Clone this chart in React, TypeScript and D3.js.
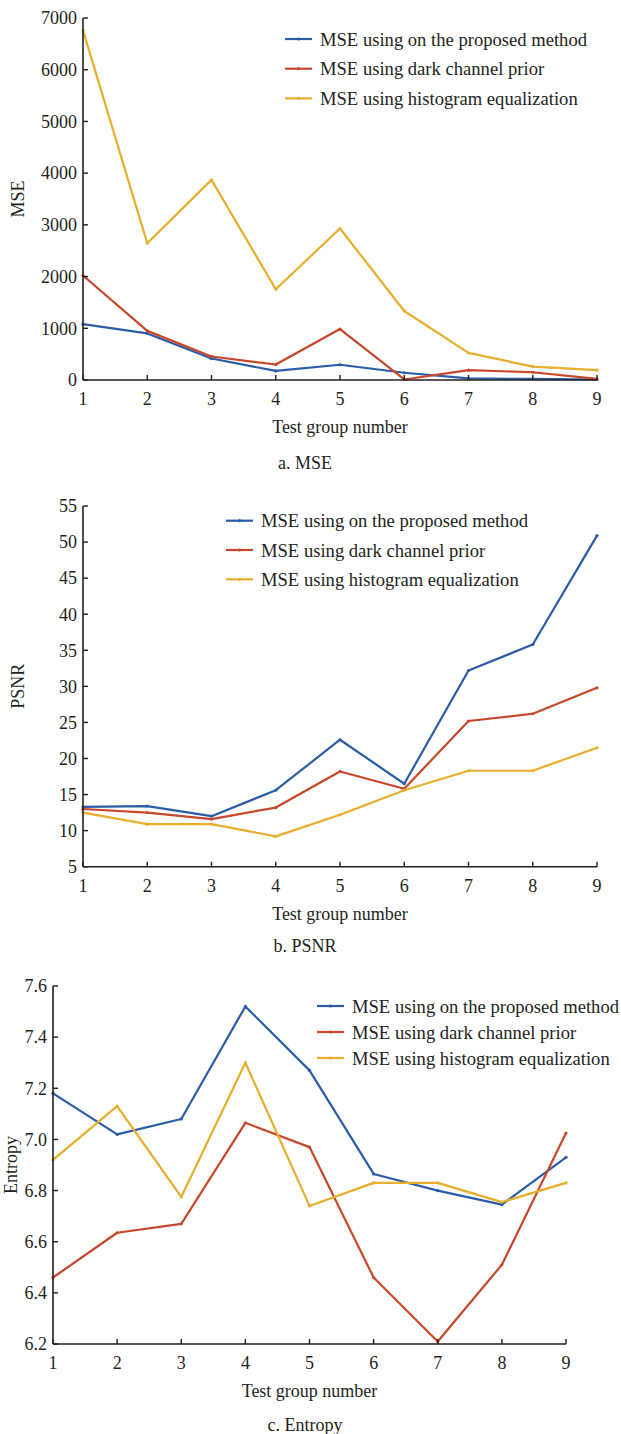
import React from "react";
import * as d3 from "d3";

const width = 621;
const height = 1434;

// test groups on the x axis
const groups = [1, 2, 3, 4, 5, 6, 7, 8, 9];

const seriesNames = [
  "MSE using on the proposed method",
  "MSE using dark channel prior",
  "MSE using histogram equalization",
];
const seriesColors = ["#2a5ca8", "#c8472a", "#e7ae2c"];

// a. MSE
const mseProposed = [1080, 900, 415, 175, 295, 140, 30, 20, 10];
const mseDark = [2020, 950, 455, 300, 985, 10, 190, 150, 20];
const mseHist = [6760, 2645, 3870, 1755, 2930, 1335, 525, 260, 190];
const mseTicks = [0, 1000, 2000, 3000, 4000, 5000, 6000, 7000];

// b. PSNR
const psnrProposed = [13.3, 13.4, 12.0, 15.6, 22.6, 16.5, 32.2, 35.8, 50.9];
const psnrDark = [13.0, 12.5, 11.6, 13.2, 18.2, 15.8, 25.2, 26.2, 29.8];
const psnrHist = [12.5, 10.9, 10.9, 9.2, 12.2, 15.6, 18.3, 18.3, 21.5];
const psnrTicks = [5, 10, 15, 20, 25, 30, 35, 40, 45, 50, 55];

// c. Entropy
const entProposed = [7.18, 7.02, 7.08, 7.52, 7.27, 6.865, 6.8, 6.745, 6.93];
const entDark = [6.46, 6.635, 6.67, 7.065, 6.97, 6.46, 6.21, 6.51, 7.025];
const entHist = [6.92, 7.13, 6.775, 7.3, 6.74, 6.83, 6.83, 6.755, 6.83];
const entTicks = [6.2, 6.4, 6.6, 6.8, 7.0, 7.2, 7.4, 7.6];

const font = "Liberation Serif, Times New Roman, Times, serif";
const ink = "#231f20";

const panels = [
  {
    key: "mse",
    yLabel: "MSE",
    caption: "a. MSE",
    series: [mseProposed, mseDark, mseHist],
    ticks: mseTicks,
    fmt: d3.format("d"),
    x0: 83, x1: 597, yTop: 18, yBottom: 380,
    yLabelX: 24,
    legend: { x: 285, y: 39, gap: 29.7 },
    captionY: 463,
  },
  {
    key: "psnr",
    yLabel: "PSNR",
    caption: "b. PSNR",
    series: [psnrProposed, psnrDark, psnrHist],
    ticks: psnrTicks,
    fmt: d3.format("d"),
    x0: 83, x1: 597, yTop: 506, yBottom: 866.7,
    yLabelX: 24,
    legend: { x: 226, y: 520.7, gap: 29.3 },
    captionY: 946,
  },
  {
    key: "entropy",
    yLabel: "Entropy",
    caption: "c. Entropy",
    series: [entProposed, entDark, entHist],
    ticks: entTicks,
    fmt: d3.format(".1f"),
    x0: 53, x1: 566, yTop: 986, yBottom: 1344,
    yLabelX: 17,
    legend: { x: 317, y: 1006, gap: 26 },
    captionY: 1425,
  },
];

function Panel({ p }) {
  const x = d3.scaleLinear().domain([1, 9]).range([p.x0, p.x1]);
  const y = d3
    .scaleLinear()
    .domain([p.ticks[0], p.ticks[p.ticks.length - 1]])
    .range([p.yBottom, p.yTop]);
  const line = d3
    .line<number>()
    .x((d, i) => x(groups[i]))
    .y((d) => y(d));

  const midX = (p.x0 + p.x1) / 2;
  const midY = (p.yTop + p.yBottom) / 2;

  return (
    <g>
      {/* lines */}
      {p.series.map((s, si) => (
        <g key={si}>
          <path
            d={line(s)}
            fill="none"
            stroke={seriesColors[si]}
            strokeWidth={2.2}
            strokeLinejoin="round"
          />
          {s.map((v, i) => (
            <circle
              key={i}
              cx={x(groups[i])}
              cy={y(v)}
              r={1.6}
              fill={seriesColors[si]}
            />
          ))}
        </g>
      ))}

      {/* axes */}
      <line x1={p.x0} x2={p.x0} y1={p.yTop} y2={p.yBottom} stroke={ink} strokeWidth={1.6} />
      <line x1={p.x0} x2={p.x1} y1={p.yBottom} y2={p.yBottom} stroke={ink} strokeWidth={1.6} />
      {p.ticks.map((t) => (
        <g key={t}>
          <line x1={p.x0} x2={p.x0 + 5} y1={y(t)} y2={y(t)} stroke={ink} strokeWidth={1.4} />
          <text
            x={p.x0 - 6}
            y={y(t)}
            dy="0.35em"
            textAnchor="end"
            fontSize={18}
            fontFamily={font}
            fill={ink}
          >
            {p.fmt(t)}
          </text>
        </g>
      ))}
      {groups.map((g) => (
        <g key={g}>
          <line x1={x(g)} x2={x(g)} y1={p.yBottom} y2={p.yBottom - 5} stroke={ink} strokeWidth={1.4} />
          <text
            x={x(g)}
            y={p.yBottom + 19}
            dy="0.35em"
            textAnchor="middle"
            fontSize={18}
            fontFamily={font}
            fill={ink}
          >
            {g}
          </text>
        </g>
      ))}

      {/* axis titles */}
      <text
        x={midX}
        y={p.yBottom + 47}
        dy="0.35em"
        textAnchor="middle"
        fontSize={18}
        fontFamily={font}
        fill={ink}
      >
        Test group number
      </text>
      <text
        transform={`translate(${p.yLabelX},${midY}) rotate(-90)`}
        textAnchor="middle"
        fontSize={18}
        fontFamily={font}
        fill={ink}
      >
        {p.yLabel}
      </text>

      {/* legend */}
      {seriesNames.map((name, i) => {
        const ly = p.legend.y + i * p.legend.gap;
        return (
          <g key={name}>
            <line
              x1={p.legend.x}
              x2={p.legend.x + 27}
              y1={ly}
              y2={ly}
              stroke={seriesColors[i]}
              strokeWidth={2.2}
            />
            <circle cx={p.legend.x + 13.5} cy={ly} r={1.6} fill={seriesColors[i]} />
            <text
              x={p.legend.x + 35}
              y={ly}
              dy="0.35em"
              fontSize={18.6}
              fontFamily={font}
              fill={ink}
            >
              {name}
            </text>
          </g>
        );
      })}

      {/* caption */}
      <text
        x={305}
        y={p.captionY}
        dy="0.35em"
        textAnchor="middle"
        fontSize={18}
        fontFamily={font}
        fill={ink}
      >
        {p.caption}
      </text>
    </g>
  );
}

export default function App() {
  return (
    <div style={{ position: "absolute", left: 0, top: 0 }}>
      <svg width={width} height={height} style={{ display: "block", background: "#fff" }}>
        {panels.map((p) => (
          <Panel key={p.key} p={p} />
        ))}
      </svg>
    </div>
  );
}
